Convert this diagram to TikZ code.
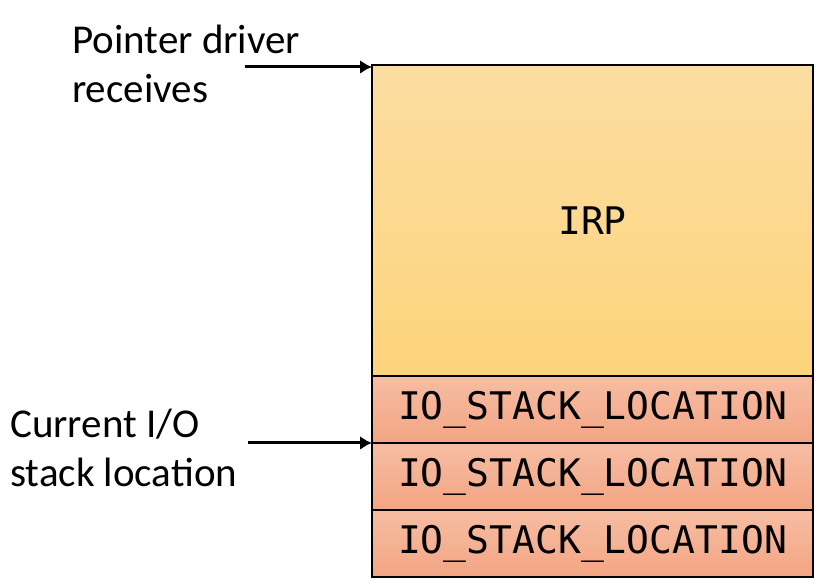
\documentclass[tikz,border=0pt]{standalone}
\usepackage{fontspec}
\setmainfont{Carlito}
\newfontfamily\codefont{DejaVu Sans Mono}
\usetikzlibrary{positioning,arrows.meta}

\definecolor{irptop}{HTML}{FCDDA2}
\definecolor{irpbot}{HTML}{FDD47B}
\definecolor{stktop}{HTML}{F6BDA3}
\definecolor{stkbot}{HTML}{F3A583}

\tikzset{
  irpbox/.style={draw, line width=2pt, top color=irptop, bottom color=irpbot,
    minimum width=441pt, minimum height=311pt, inner sep=0pt, outer sep=0pt,
    font=\codefont\fontsize{38}{44}\selectfont},
  stkbox/.style={draw, line width=2pt, top color=stktop, bottom color=stkbot,
    minimum width=441pt, minimum height=67pt, inner sep=0pt, outer sep=0pt,
    font=\codefont\fontsize{38}{44}\selectfont},
  note/.style={align=left, inner sep=0pt, anchor=north west,
    font=\fontsize{41}{49}\selectfont},
  pointer/.style={-{Latex[length=12pt,width=14pt]}, line width=3pt}
}

\begin{document}
\begin{tikzpicture}[x=1pt, y=1pt]
  \useasboundingbox (0,0) rectangle (820,585);
  % the IRP and its stack locations
  \node[irpbox, anchor=north] (irp) at (592.5,520) {IRP};
  \node[stkbox, below=0pt of irp] (stk1) {IO\_STACK\_LOCATION};
  \node[stkbox, below=0pt of stk1] (stk2) {IO\_STACK\_LOCATION};
  \node[stkbox, below=0pt of stk2] (stk3) {IO\_STACK\_LOCATION};
  % labels
  \node[note] (recv) at (72,560) {Pointer driver\\receives};
  \node[note] (curr) at (10,176) {Current I/O\\stack location};
  \coordinate (recvtail) at (245,518);
  \coordinate (currtail) at (248,142);
  \draw[pointer] (recvtail) -- (recvtail -| irp.west);
  \draw[pointer] (currtail) -- (stk1.south west);
\end{tikzpicture}
\end{document}
